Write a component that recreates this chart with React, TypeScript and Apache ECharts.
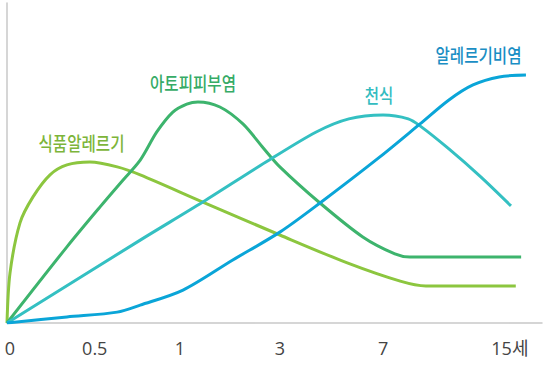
import React, { useEffect, useRef } from "react";
import * as echarts from "echarts";

// Horizontal timeline position (0–100 across the axis) and relative prevalence (0–100)
const foodAllergyX = [0, 0.56, 2.43, 4.86, 8.04, 11.2, 15.5, 20.6, 24.9, 36.6, 51.0, 63.6, 73.5, 78.3, 95.1];
const foodAllergyY = [0, 15.6, 31.3, 39.4, 46.3, 49.4, 50.3, 48.8, 46.3, 37.8, 27.5, 18.8, 13.1, 11.6, 11.6];

const atopicX = [0, 11.2, 17.4, 21.7, 24.9, 28.0, 31.0, 33.6, 35.7, 39.8, 44.1, 47.9, 51.0, 58.5, 66.5, 72.5, 75.3, 96.1];
const atopicY = [0, 23.8, 36.3, 44.7, 50.9, 59.7, 65.9, 68.4, 69.1, 67.5, 62.2, 54.7, 48.8, 37.5, 26.9, 21.6, 20.6, 20.6];

const asthmaX = [0, 24.9, 36.6, 48.4, 57.8, 63.9, 70.3, 75.0, 77.2, 82.6, 88.4, 94.2];
const asthmaY = [0, 25.9, 37.8, 50.3, 59.7, 63.8, 65.0, 63.8, 61.6, 54.4, 45.9, 36.6];

const rhinitisX = [0, 11.2, 20.6, 24.9, 32.9, 42.2, 51.0, 58.5, 69.7, 77.2, 82.6, 87.1, 92.0, 97.0];
const rhinitisY = [0, 1.9, 3.4, 5.6, 10.3, 19.7, 28.4, 37.5, 51.9, 62.2, 69.7, 74.4, 76.9, 77.5];

const tickPositions = [0.56, 16.4, 32.3, 51.0, 70.3, 94.0];
const tickLabels = ["0", "0.5", "1", "3", "7", "15세"];

const seriesNames = ["식품알레르기", "아토피피부염", "천식", "알레르기비염"];

const zip = (xs: number[], ys: number[]) => xs.map((x, i) => [x, ys[i]]);

export default function App() {
  const ref = useRef<HTMLDivElement>(null);
  useEffect(() => {
    if (!ref.current) return;
    const chart = echarts.init(ref.current, null, { renderer: "svg" });
    const lineColors = ["#8cc63f", "#3db46d", "#34c0c2", "#0aa5d8"];
    const labelColors = ["#7db53a", "#36ab66", "#33bcc0", "#1a8ec4"];
    const dataSets = [
      zip(foodAllergyX, foodAllergyY),
      zip(atopicX, atopicY),
      zip(asthmaX, asthmaY),
      zip(rhinitisX, rhinitisY),
    ];
    const labelPos = [
      [81.5, 143],
      [193, 83],
      [379, 95],
      [478.5, 55],
    ];
    chart.setOption({
      animation: false,
      grid: { left: 7, right: 4, top: 3, bottom: 43, containLabel: false },
      xAxis: {
        type: "value",
        min: 0,
        max: 100,
        axisLine: { show: true, lineStyle: { color: "#c8c8c8", width: 1.5 } },
        axisTick: { show: false },
        splitLine: { show: false },
        axisLabel: {
          customValues: tickPositions,
          margin: 16,
          fontSize: 18,
          color: "#444",
          fontFamily: "'Open Sans', 'Noto Sans CJK KR', sans-serif",
          formatter: (v: number) => {
            let best = 0;
            tickPositions.forEach((p, i) => {
              if (Math.abs(p - v) < Math.abs(tickPositions[best] - v)) best = i;
            });
            return tickLabels[best];
          },
        },
      },
      yAxis: {
        type: "value",
        min: 0,
        max: 100,
        axisLine: { show: true, lineStyle: { color: "#c8c8c8", width: 1.5 } },
        axisTick: { show: false },
        axisLabel: { show: false },
        splitLine: { show: false },
      },
      series: dataSets.map((d, i) => ({
        type: "line",
        name: seriesNames[i],
        data: d,
        smooth: 0.3,
        showSymbol: false,
        symbol: "none",
        lineStyle: { color: lineColors[i], width: 3 },
        z: 2 + i,
      })),
      graphic: seriesNames.map((n, i) => ({
        type: "text",
        x: labelPos[i][0],
        y: labelPos[i][1],
        scaleX: 0.82,
        style: {
          text: n,
          fill: labelColors[i],
          fontSize: 19,
          fontWeight: 500,
          fontFamily: "'Noto Sans CJK KR', sans-serif",
          textAlign: "center",
          textVerticalAlign: "middle",
        },
      })),
    });
    return () => chart.dispose();
  }, []);
  return (
    <div
      ref={ref}
      style={{ position: "absolute", left: 0, top: 0, width: 546, height: 366, background: "#fff" }}
    />
  );
}
